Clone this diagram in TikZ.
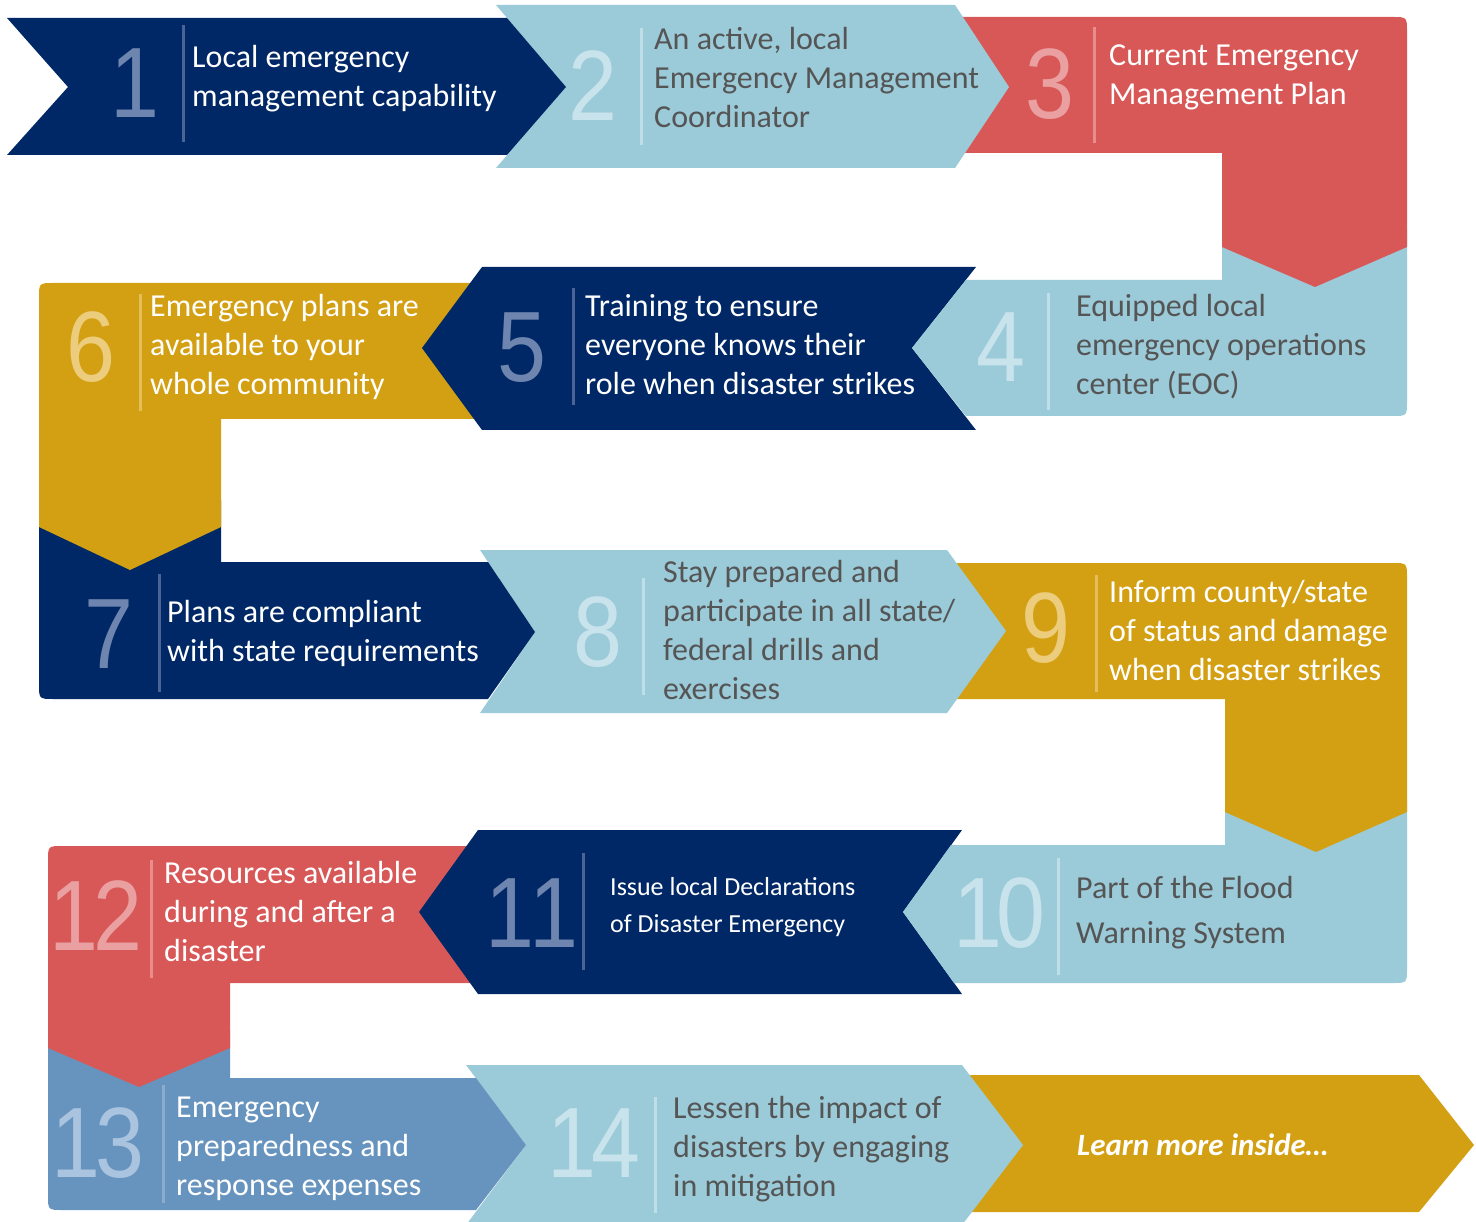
\documentclass[tikz,border=0pt]{standalone}
\usepackage{fontspec}
\setmainfont{Carlito}
\newfontfamily\numfont{Liberation Sans}
\definecolor{navyc}{RGB}{0,40,102}
\definecolor{lblue}{RGB}{155,202,216}
\definecolor{redc}{RGB}{216,88,88}
\definecolor{goldc}{RGB}{212,160,19}
\definecolor{steelc}{RGB}{103,148,190}
\definecolor{greyt}{RGB}{85,85,85}
\definecolor{numnavy}{RGB}{110,133,175}
\definecolor{numlblue}{RGB}{200,227,236}
\definecolor{numred}{RGB}{234,160,160}
\definecolor{numgold}{RGB}{236,204,125}
\definecolor{numsteel}{RGB}{170,195,222}
\definecolor{divnavy}{RGB}{75,100,150}
\definecolor{divlblue}{RGB}{190,222,232}
\definecolor{divred}{RGB}{232,140,140}
\definecolor{divgold}{RGB}{228,190,90}
\definecolor{divsteel}{RGB}{140,172,205}
\newcommand{\mylines}[1]{\begin{tabular}[t]{@{}l@{}}#1\end{tabular}}
\newcommand{\mynum}[1]{\scalebox{0.88}[1]{#1}}
\tikzset{
  num/.style={inner sep=0pt, anchor=center, font=\numfont\fontsize{100}{100}\selectfont},
  txt/.style={inner sep=0pt, anchor=base west, font=\fontsize{32}{39}\selectfont},
  divider/.style={line width=3pt},
}
\begin{document}
\begin{tikzpicture}[x=1pt,y=-1pt]
\useasboundingbox (0,0) rectangle (1476,1222);
\clip (0,0) rectangle (1476,1222);
% shapes, back to front
\fill[goldc] (900,1075) -- (1419,1075) -- (1474,1145) -- (1419,1212) -- (900,1212) -- cycle;
\fill[lblue] (466,1065) -- (962,1065) -- (1023,1145) -- (962,1225) -- (466,1225) -- (526,1145) -- cycle;
\fill[steelc] (48,1030) -- (230,1030) -- (230,1078) -- (476,1078) -- (526,1145) -- (476,1210) -- (63,1210) .. controls (48,1210) .. (48,1195) -- cycle;
\fill[redc] (48,861) .. controls (48,846) .. (63,846) -- (500,846) -- (500,983) -- (230,983) -- (230,1048) -- (139,1087) -- (48,1048) -- cycle;
\fill[navyc] (478,830) -- (962,830) -- (903,912) -- (962,994) -- (478,994) -- (419,912) -- cycle;
\fill[lblue] (951,845) -- (1225,845) -- (1225,800) -- (1407,800) -- (1407,968) .. controls (1407,983) .. (1392,983) -- (954,983) -- (903,912) -- cycle;
\fill[goldc] (900,563) -- (1392,563) .. controls (1407,563) .. (1407,578) -- (1407,812) -- (1316,852) -- (1225,812) -- (1225,699) -- (900,699) -- cycle;
\fill[lblue] (480,550) -- (947,550) -- (1006,631) -- (947,713) -- (480,713) -- (535,632) -- cycle;
\fill[navyc] (39,500) -- (221,500) -- (221,562) -- (488,562) -- (535,632) -- (488,699) -- (54,699) .. controls (39,699) .. (39,684) -- cycle;
\fill[goldc] (39,298) .. controls (39,283) .. (54,283) -- (520,283) -- (520,419) -- (221,419) -- (221,527) -- (130,570) -- (39,527) -- cycle;
\fill[navyc] (482,267) -- (976,267) -- (912,348) -- (976,430) -- (482,430) -- (422,348) -- cycle;
\fill[lblue] (966,280) -- (1222,280) -- (1222,230) -- (1407,230) -- (1407,401) .. controls (1407,416) .. (1392,416) -- (966,416) -- (912,348) -- cycle;
\fill[redc] (900,17) -- (1392,17) .. controls (1407,17) .. (1407,32) -- (1407,247) -- (1315,287) -- (1222,247) -- (1222,153) -- (900,153) -- cycle;
\fill[lblue] (496,5) -- (955,5) -- (1009,87) -- (955,168) -- (496,168) -- (566,87) -- cycle;
\fill[navyc] (7,18) -- (507,18) -- (566,87) -- (507,155) -- (7,155) -- (68,87) -- cycle;
% dividers
\draw[divider,divnavy] (183,25) -- (183,142);
\draw[divider,divlblue] (641,28) -- (641,145);
\draw[divider,divred] (1094,27) -- (1094,143);
\draw[divider,divlblue] (1048,293) -- (1048,410);
\draw[divider,divnavy] (573,288) -- (573,405);
\draw[divider,divgold] (140,294) -- (140,411);
\draw[divider,divnavy] (159,574) -- (159,692);
\draw[divider,divlblue] (643,578) -- (643,695);
\draw[divider,divgold] (1096,575) -- (1096,692);
\draw[divider,divlblue] (1058,858) -- (1058,975);
\draw[divider,divnavy] (583,853) -- (583,970);
\draw[divider,divred] (151,860) -- (151,978);
\draw[divider,divsteel] (163,1085) -- (163,1203);
\draw[divider,divlblue] (655,1097) -- (655,1213);
% numbers
\node[num,text=numnavy] (n1) at (134.5,83.5) {\mynum{1}};
\node[num,text=numlblue] (n2) at (593,86) {\mynum{2}};
\node[num,text=numred] (n3) at (1050,84) {\mynum{3}};
\node[num,text=numlblue] (n4) at (1001,347) {\mynum{4}};
\node[num,text=numnavy] (n5) at (521.5,347.5) {\mynum{5}};
\node[num,text=numgold] (n6) at (91,347) {\mynum{6}};
\node[num,text=numnavy] (n7) at (109,634) {\mynum{7}};
\node[num,text=numlblue] (n8) at (598,632) {\mynum{8}};
\node[num,text=numgold] (n9) at (1046,628) {\mynum{9}};
\node[num,text=numlblue] (n10) at (999.5,913.5) {\mynum{1\kern-6pt 0}};
\node[num,text=numnavy] (n11) at (532,913) {\mynum{1\kern-6pt 1}};
\node[num,text=numred] (n12) at (96,916) {\mynum{1\kern-6pt 2}};
\node[num,text=numsteel] (n13) at (98,1143) {\mynum{1\kern-6pt 3}};
\node[num,text=numlblue] (n14) at (594,1143) {\mynum{1\kern-6pt 4}};
% texts
\node[txt,text=white] (t1) at (192,68) {\mylines{Local emergency\\management capability}};
\node[txt,text=greyt] (t2) at (654,50) {\mylines{An active, local\\Emergency Management\\Coordinator}};
\node[txt,text=white] (t3) at (1109,66) {\mylines{Current Emergency\\Management Plan}};
\node[txt,text=greyt] (t4) at (1076,317) {\mylines{Equipped local\\emergency operations\\center (EOC)}};
\node[txt,text=white] (t5) at (585,317) {\mylines{Training to ensure\\everyone knows their\\role when disaster strikes}};
\node[txt,text=white] (t6) at (150,317) {\mylines{Emergency plans are\\available to your\\whole community}};
\node[txt,text=white] (t7) at (167,622) {\mylines{Plans are compliant\\with state requirements}};
\node[txt,text=greyt] (t8) at (663,582) {\mylines{Stay prepared and\\participate in all state/\\federal drills and\\exercises}};
\node[txt,text=white] (t9) at (1109,602) {\mylines{Inform county/state\\of status and damage\\when disaster strikes}};
\node[txt,text=greyt,font=\fontsize{32}{45}\selectfont] (t10) at (1076,898) {\mylines{Part of the Flood\\Warning System}};
\node[txt,text=white,font=\fontsize{26}{37}\selectfont] (t11) at (610,895) {\mylines{Issue local Declarations\\of Disaster Emergency}};
\node[txt,text=white] (t12) at (164,883) {\mylines{Resources available\\during and after a\\disaster}};
\node[txt,text=white] (t13) at (176,1117) {\mylines{Emergency\\preparedness and\\response expenses}};
\node[txt,text=greyt] (t14) at (673,1118) {\mylines{Lessen the impact of\\disasters by engaging\\in mitigation}};
\node[txt,text=white,font=\fontsize{31}{36}\selectfont\bfseries\itshape] (t15) at (1077,1155) {Learn more inside…};
\end{tikzpicture}
\end{document}
